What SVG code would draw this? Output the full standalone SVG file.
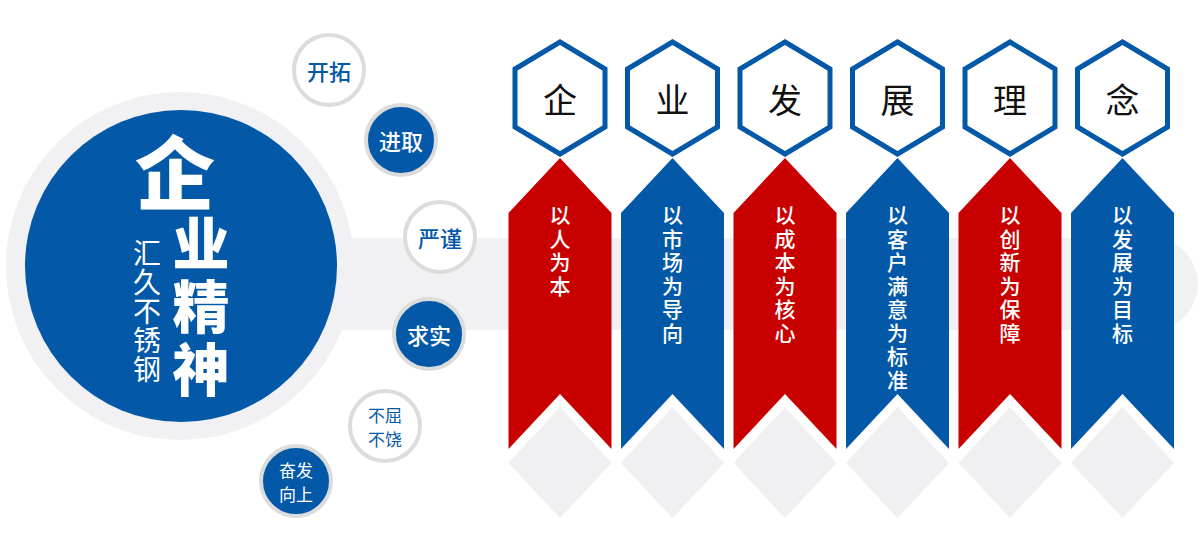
<svg xmlns="http://www.w3.org/2000/svg" width="1200" height="550" viewBox="0 0 1200 550">
<style>
.bg{fill:#f1f1f3}
.cjk{font-family:"Noto Sans CJK SC","Noto Sans CJK TC",sans-serif}
.hex{fill:#fff;stroke:#0359a8;stroke-width:5}
.hexT{font-size:34px;fill:#111;text-anchor:middle;dominant-baseline:central}
.red{fill:#c90000}
.blue{fill:#0359a8}
.vt{writing-mode:vertical-rl;text-anchor:start}
.rT{font-size:21px;fill:#fff;letter-spacing:2.5px;font-weight:500}
.dia{fill:#f0f0f2}
.sw{fill:#fff;stroke:#dcdcdc;stroke-width:4}
.sb{fill:#0359a8;stroke:#dcdcdc;stroke-width:4}
.tB{fill:#0359a8;text-anchor:middle;dominant-baseline:central}
.tW{fill:#fff;text-anchor:middle;dominant-baseline:central}
.big{fill:#fff;font-weight:900}
</style>
<defs>
<polygon id="hexShape" points="0,42 45,69 45,127 0,154 -45,127 -45,69"/>
<polygon id="ribbon" points="0,158 51.5,213 51.5,449 0,394 -51.5,449 -51.5,213"/>
<polygon id="diamond" points="0,407 51.5,463 0,518 -51.5,463"/>
</defs>

<g id="band">
<path class="bg" d="M300,238 H1152 A46,46 0 0 1 1152,330 H300 Z"/>
</g>

<g id="main-circle">
<circle class="bg" cx="180" cy="266" r="174"/>
<circle cx="181" cy="266" r="156" fill="#0359a8"/>
<text class="cjk big" x="175" y="168" font-size="80" text-anchor="middle" dominant-baseline="central">企</text>
<text class="cjk big vt" x="201" y="215" font-size="57" letter-spacing="6">业精神</text>
<text class="cjk vt" x="147" y="239" font-size="28" letter-spacing="1" fill="#fff">汇久不锈钢</text>
</g>

<g id="c-kaituo">
<circle class="sw" cx="329" cy="70" r="35"/>
<text class="cjk tB" x="329" y="70" font-size="22" font-weight="500">开拓</text>
</g>
<g id="c-jinqu">
<circle class="sb" cx="401" cy="140" r="35"/>
<text class="cjk tW" x="401" y="140" font-size="22" font-weight="500">进取</text>
</g>
<g id="c-yanjin">
<circle class="sw" cx="440" cy="237" r="35"/>
<text class="cjk tB" x="440" y="237" font-size="22" font-weight="500">严谨</text>
</g>
<g id="c-qiushi">
<circle class="sb" cx="429" cy="334" r="35"/>
<text class="cjk tW" x="429" y="334" font-size="22" font-weight="500">求实</text>
</g>
<g id="c-buqu">
<circle class="sw" cx="385" cy="426" r="35"/>
<text class="cjk tB" x="385" y="414" font-size="17">不屈</text>
<text class="cjk tB" x="385" y="438" font-size="17">不饶</text>
</g>
<g id="c-fenfa">
<circle class="sb" cx="296" cy="481" r="35"/>
<text class="cjk tW" x="296" y="469" font-size="17">奋发</text>
<text class="cjk tW" x="296" y="493" font-size="17">向上</text>
</g>

<g id="col1" transform="translate(560,0)">
<use href="#hexShape" class="hex"/>
<text class="cjk hexT" x="0" y="98">企</text>
<use href="#ribbon" class="red"/>
<use href="#diamond" class="dia"/>
<text class="cjk vt rT" x="0" y="205">以人为本</text>
</g>
<g id="col2" transform="translate(672.5,0)">
<use href="#hexShape" class="hex"/>
<text class="cjk hexT" x="0" y="98">业</text>
<use href="#ribbon" class="blue"/>
<use href="#diamond" class="dia"/>
<text class="cjk vt rT" x="0" y="205">以市场为导向</text>
</g>
<g id="col3" transform="translate(785,0)">
<use href="#hexShape" class="hex"/>
<text class="cjk hexT" x="0" y="98">发</text>
<use href="#ribbon" class="red"/>
<use href="#diamond" class="dia"/>
<text class="cjk vt rT" x="0" y="205">以成本为核心</text>
</g>
<g id="col4" transform="translate(897.5,0)">
<use href="#hexShape" class="hex"/>
<text class="cjk hexT" x="0" y="98">展</text>
<use href="#ribbon" class="blue"/>
<use href="#diamond" class="dia"/>
<text class="cjk vt rT" x="0" y="205">以客户满意为标准</text>
</g>
<g id="col5" transform="translate(1010,0)">
<use href="#hexShape" class="hex"/>
<text class="cjk hexT" x="0" y="98">理</text>
<use href="#ribbon" class="red"/>
<use href="#diamond" class="dia"/>
<text class="cjk vt rT" x="0" y="205">以创新为保障</text>
</g>
<g id="col6" transform="translate(1122.5,0)">
<use href="#hexShape" class="hex"/>
<text class="cjk hexT" x="0" y="98">念</text>
<use href="#ribbon" class="blue"/>
<use href="#diamond" class="dia"/>
<text class="cjk vt rT" x="0" y="205">以发展为目标</text>
</g>
<g id="connectors"/>
</svg>
